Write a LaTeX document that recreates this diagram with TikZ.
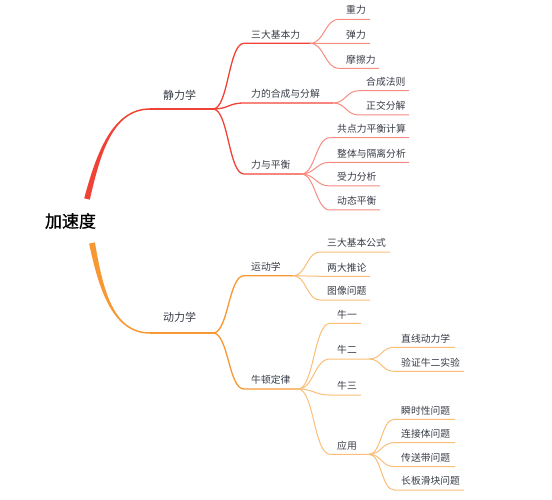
\documentclass[tikz,border=0pt]{standalone}
\usepackage{fontspec}
\newfontfamily\cjk{Noto Sans CJK SC}
\newfontfamily\cjkroot{Noto Sans CJK SC}[FakeBold=0.8]
\usetikzlibrary{calc}
\definecolor{redA}{RGB}{239,67,56}
\definecolor{redB}{RGB}{247,140,130}
\definecolor{orA}{RGB}{247,152,50}
\definecolor{orB}{RGB}{250,190,120}
\definecolor{txt}{RGB}{55,60,70}
\tikzset{
  sc/.style={to path={.. controls ($(\tikztostart)!0.5!(\tikztostart-|\tikztotarget)$) and ($(\tikztotarget)!0.5!(\tikztotarget-|\tikztostart)$) .. (\tikztotarget)}},
  labtxt/.style={font=\cjk\fontsize{9.8}{12}\selectfont, text=txt, inner sep=0pt, anchor=west},
  maintxt/.style={font=\cjk\fontsize{11}{13}\selectfont, text=txt, inner sep=0pt},
  roottxt/.style={font=\cjkroot\fontsize{17}{20}\selectfont, text=black, inner sep=0pt},
  lvone/.style={draw=redA, line width=1.3pt},
  lvtwo/.style={draw=orA, line width=1.3pt},
  leafred/.style={draw=redB, line width=1pt},
  leafor/.style={draw=orB, line width=1pt},
}
\newcommand\mmnode[8]{%
  \coordinate (#1s) at (#3,#5);
  \coordinate (#1e) at (#4,#5);
  \node[labtxt] (#1) at (#6,#5-9) {#7};
  \draw[#8] (#2) to[sc] (#1s) -- (#1e);
}
\begin{document}
\begin{tikzpicture}[x=1pt,y=-1pt]
\useasboundingbox (0,0) rectangle (552,500);
\node[roottxt] (root) at (70.5,221) {加速度};
% red main branch
\coordinate (rs) at (87,199);
\coordinate (rh) at (150,109);
\coordinate (B1) at (213,109);
\fill[redA] (84.2,198.3) .. controls (96,154.5) and (112,108.25) .. (150,108.25) -- (150,109.75) .. controls (112,109.75) and (100,155.5) .. (89.8,199.7) -- cycle;
\draw[redA, line width=1.5pt] (rh) -- (B1);
\node[maintxt] (m1) at (179.5,95) {静力学};
% orange main branch
\coordinate (os) at (92,243);
\coordinate (oh) at (150,333);
\coordinate (B2) at (213,333);
\fill[orA] (89.1,243.6) .. controls (99,290.4) and (113,333.75) .. (150,333.75) -- (150,332.25) .. controls (113,332.25) and (103,289.6) .. (94.9,242.4) -- cycle;
\draw[orA, line width=1.5pt] (oh) -- (B2);
\node[maintxt] (m2) at (179.5,317.5) {动力学};
% red subtree
\mmnode{a1}{B1}{244}{310}{43.3}{251}{三大基本力}{lvone}
\mmnode{a2}{B1}{244}{333}{103}{251}{力的合成与分解}{lvone}
\mmnode{a3}{B1}{244}{301}{174}{251}{力与平衡}{lvone}
\mmnode{c1}{a1e}{339}{370}{19.3}{346}{重力}{leafred}
\mmnode{c2}{a1e}{339}{370}{43.5}{346}{弹力}{leafred}
\mmnode{c3}{a1e}{339}{379}{68.3}{346}{摩擦力}{leafred}
\mmnode{c4}{a2e}{359}{409}{90.7}{366}{合成法则}{leafred}
\mmnode{c5}{a2e}{359}{409}{115}{366}{正交分解}{leafred}
\mmnode{c6}{a3e}{330}{409}{137.7}{337}{共点力平衡计算}{leafred}
\mmnode{c7}{a3e}{330}{409}{162.3}{337}{整体与隔离分析}{leafred}
\mmnode{c8}{a3e}{330}{380}{186}{337}{受力分析}{leafred}
\mmnode{c9}{a3e}{330}{380}{210}{337}{动态平衡}{leafred}
% orange subtree
\mmnode{b1}{B2}{244}{293}{275.7}{251}{运动学}{lvtwo}
\mmnode{b2}{B2}{244}{298}{389}{251}{牛顿定律}{lvtwo}
\mmnode{d1}{b1e}{320}{390}{252}{327}{三大基本公式}{leafor}
\mmnode{d2}{b1e}{320}{370}{276.3}{327}{两大推论}{leafor}
\mmnode{d3}{b1e}{320}{370}{300}{327}{图像问题}{leafor}
\mmnode{e1}{b2e}{330}{361}{323.3}{337}{牛一}{leafor}
\mmnode{e2}{b2e}{330}{369}{359}{337}{牛二}{leafor}
\mmnode{e3}{b2e}{330}{361}{395}{337}{牛三}{leafor}
\mmnode{e4}{b2e}{330}{369}{454.3}{337}{应用}{leafor}
\mmnode{f1}{e2e}{394}{455}{347.3}{401}{直线动力学}{leafor}
\mmnode{f2}{e2e}{394}{464}{371.3}{401}{验证牛二实验}{leafor}
\mmnode{f3}{e4e}{394}{455}{419.3}{401}{瞬时性问题}{leafor}
\mmnode{f4}{e4e}{394}{455}{442.7}{401}{连接体问题}{leafor}
\mmnode{f5}{e4e}{394}{455}{466.7}{401}{传送带问题}{leafor}
\mmnode{f6}{e4e}{394}{464}{490}{401}{长板滑块问题}{leafor}
\end{tikzpicture}
\end{document}
